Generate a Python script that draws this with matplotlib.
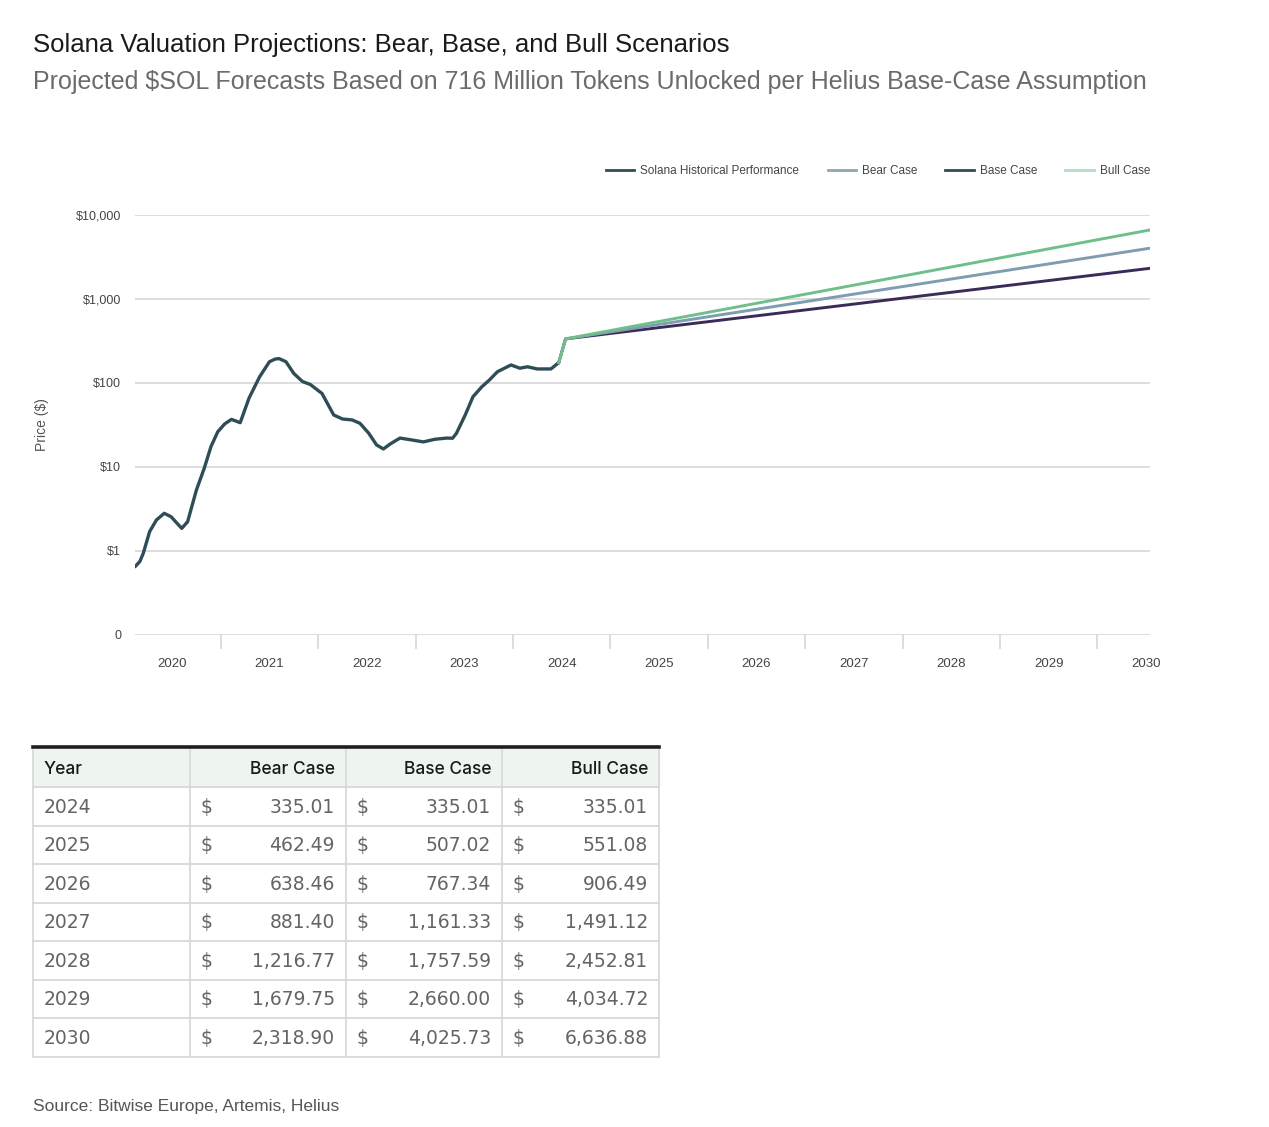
import matplotlib
matplotlib.use("Agg")
import matplotlib.pyplot as plt
from matplotlib.lines import Line2D
import numpy as np

# ---------------- data ----------------
hist_year = [2020.12, 2020.17, 2020.205, 2020.27, 2020.34, 2020.42, 2020.49, 2020.60, 2020.66,
             2020.75, 2020.83, 2020.90, 2020.97, 2021.04, 2021.11, 2021.20, 2021.29, 2021.40,
             2021.50, 2021.56, 2021.60, 2021.67, 2021.75, 2021.84, 2021.92, 2022.04, 2022.16,
             2022.25, 2022.35, 2022.43, 2022.52, 2022.60, 2022.67, 2022.74, 2022.84, 2022.96,
             2023.08, 2023.20, 2023.32, 2023.38, 2023.42, 2023.51, 2023.59, 2023.68, 2023.76,
             2023.84, 2023.98, 2024.07, 2024.15, 2024.25, 2024.39, 2024.47]
hist_price = [0.65, 0.75, 0.94, 1.70, 2.34, 2.81, 2.56, 1.86, 2.23,
              5.3, 9.6, 17.5, 26.3, 32.5, 36.9, 33.7, 65.8, 119,
              179, 193, 195, 179, 130, 104, 96, 75, 41.6,
              37.3, 36.3, 33.1, 25.2, 18.3, 16.4, 18.8, 22.1, 21.0,
              19.9, 21.4, 22.1, 22.0, 25.2, 41.6, 68.7, 90, 109,
              136, 164, 150, 156, 147, 147, 175]

years = [2024, 2025, 2026, 2027, 2028, 2029, 2030]
bear = [335.01, 462.49, 638.46, 881.40, 1216.77, 1679.75, 2318.90]
base = [335.01, 507.02, 767.34, 1161.33, 1757.59, 2660.00, 4025.73]
bull = [335.01, 551.08, 906.49, 1491.12, 2452.81, 4034.72, 6636.88]

axis_years = [2020, 2021, 2022, 2023, 2024, 2025, 2026, 2027, 2028, 2029, 2030]
ytick_vals = [0.1, 1, 10, 100, 1000, 10000]
ytick_labels = ["0", "$1", "$10", "$100", "$1,000", "$10,000"]

legend_labels = ["Solana Historical Performance", "Bear Case", "Base Case", "Bull Case"]
table_header = ["Year", "Bear Case", "Base Case", "Bull Case"]

title = "Solana Valuation Projections: Bear, Base, and Bull Scenarios"
subtitle = "Projected $SOL Forecasts Based on 716 Million Tokens Unlocked per Helius Base-Case Assumption"
source = "Source: Bitwise Europe, Artemis, Helius"

# ---------------- style ----------------
W, H = 1269, 1127
FONT = ["Liberation Sans", "DejaVu Sans"]
plt.rcParams["font.family"] = FONT

c_hist = "#2f4d56"
c_bear = "#3b2b58"
c_base = "#7f9cb0"
c_bull = "#6fbf8c"
leg_colors = ["#2f4d56", "#8ea7b0", "#2f4d56", "#b4dcc0"]
grid_c = "#d3d3d3"

fig = plt.figure(figsize=(W / 100, H / 100), dpi=100)
fig.patch.set_facecolor("white")

# main chart axes (pixel layout)
ax_l, ax_r, ax_t, ax_b = 135, 1150, 215, 635
ax = fig.add_axes([ax_l / W, 1 - ax_b / H, (ax_r - ax_l) / W, (ax_b - ax_t) / H])
ax.set_yscale("log")
x0, x1 = 2020.12, 2030.54
ax.set_xlim(x0, x1)
ax.set_ylim(0.1, 10000)

for v in ytick_vals:
    ax.axhline(v, color=grid_c, lw=1.1, zorder=0)

for s in ax.spines.values():
    s.set_visible(False)

ax.set_yticks(ytick_vals)
ax.set_yticklabels(ytick_labels)
ax.yaxis.set_minor_locator(plt.NullLocator())
ax.tick_params(axis="y", length=0, pad=10, labelsize=9, labelcolor="#444444")

ax.set_xticks(axis_years[1:])
ax.set_xticklabels([])
ax.tick_params(axis="x", length=10, width=1.1, color=grid_c, direction="out")
ax.xaxis.set_minor_locator(plt.NullLocator())

for yr in axis_years:
    xpos = yr + 0.5
    ha = "center"
    if xpos > x1:
        xpos = x1
        ha = "right"
    ax.text(xpos, -0.069, str(yr), transform=ax.get_xaxis_transform(), ha=ha, va="center",
            fontsize=9.5, color="#444444")

# lines
ax.plot(hist_year, hist_price, color=c_hist, lw=2.4, solid_capstyle="round",
        solid_joinstyle="round", zorder=3)
proj_x = [hist_year[-1]] + [y + 0.54 for y in years]
ax.plot(proj_x, [hist_price[-1]] + bear, color=c_bear, lw=2.1, zorder=4)
ax.plot(proj_x, [hist_price[-1]] + base, color=c_base, lw=2.1, zorder=5)
ax.plot(proj_x, [hist_price[-1]] + bull, color=c_bull, lw=2.1, zorder=6)

ax.set_ylabel("Price ($)", fontsize=10, color="#555555")
ax.yaxis.set_label_coords(-86 / (ax_r - ax_l), 0.5)

handles = [Line2D([0], [0], color=c, lw=2) for c in leg_colors]
ax.legend(handles, legend_labels, ncol=4, loc="center right",
          bbox_to_anchor=(1.0, 1 + 44 / (ax_b - ax_t)), frameon=False, fontsize=8.5,
          handlelength=2.4, handletextpad=0.5, columnspacing=2.4, borderaxespad=0, borderpad=0,
          labelcolor="#444444")

# ---------------- overlay (titles, table, source) ----------------
ov = fig.add_axes([0, 0, 1, 1], zorder=-1)
ov.set_xlim(0, W)
ov.set_ylim(H, 0)
ov.axis("off")

ov.text(33, 45, title, fontsize=18.5, color="#1a1a1a", ha="left", va="center")
ov.text(33, 82, subtitle, fontsize=18, color="#6b6b6b", ha="left", va="center")
ov.text(33, 1106, source, fontsize=12.5, color="#555555", ha="left", va="center")

# table
col_edges = [33, 190, 346, 502, 659]
t_top = 749
hdr_bot = 787
row_h = 38.5
n = len(years)
row_edges = [hdr_bot + i * row_h for i in range(n + 1)]
t_bot = row_edges[-1]
line_c = "#d9d9d9"

ov.fill_between([col_edges[0], col_edges[-1]], t_top, hdr_bot, color="#eef5ef", zorder=1)
for xe in col_edges:
    ov.plot([xe, xe], [t_top, t_bot], color=line_c, lw=1.3, zorder=2)
for ye in row_edges:
    ov.plot([col_edges[0], col_edges[-1]], [ye, ye], color=line_c, lw=1.3, zorder=2)
ov.plot([col_edges[0], col_edges[-1]], [747, 747], color="#1f1f1f", lw=2.6, zorder=3)

hdr_font = ["Inter", "Liberation Sans", "DejaVu Sans"]
hdr_y = (t_top + hdr_bot) / 2 + 1
ov.text(col_edges[0] + 11, hdr_y, table_header[0], fontsize=12.5, color="#1a1a1a", ha="left",
        va="center", fontweight="medium", family=hdr_font)
for j in range(1, 4):
    ov.text(col_edges[j + 1] - 11, hdr_y, table_header[j], fontsize=12.5, color="#1a1a1a",
            ha="right", va="center", fontweight="medium", family=hdr_font)

tbl_font = ["DejaVu Sans"]
tbl_c = "#646464"
cols = [bear, base, bull]
for i in range(n):
    yc = (row_edges[i] + row_edges[i + 1]) / 2 + 1
    ov.text(col_edges[0] + 11, yc, str(years[i]), fontsize=13.5, color=tbl_c, ha="left",
            va="center", family=tbl_font)
    for j, colv in enumerate(cols):
        ov.text(col_edges[j + 1] + 11, yc, "$", fontsize=13.5, color=tbl_c, ha="left",
                va="center", family=tbl_font)
        ov.text(col_edges[j + 2] - 11, yc, f"{colv[i]:,.2f}", fontsize=13.5, color=tbl_c,
                ha="right", va="center", family=tbl_font)

fig.savefig("out.png", dpi=100, facecolor="white")
